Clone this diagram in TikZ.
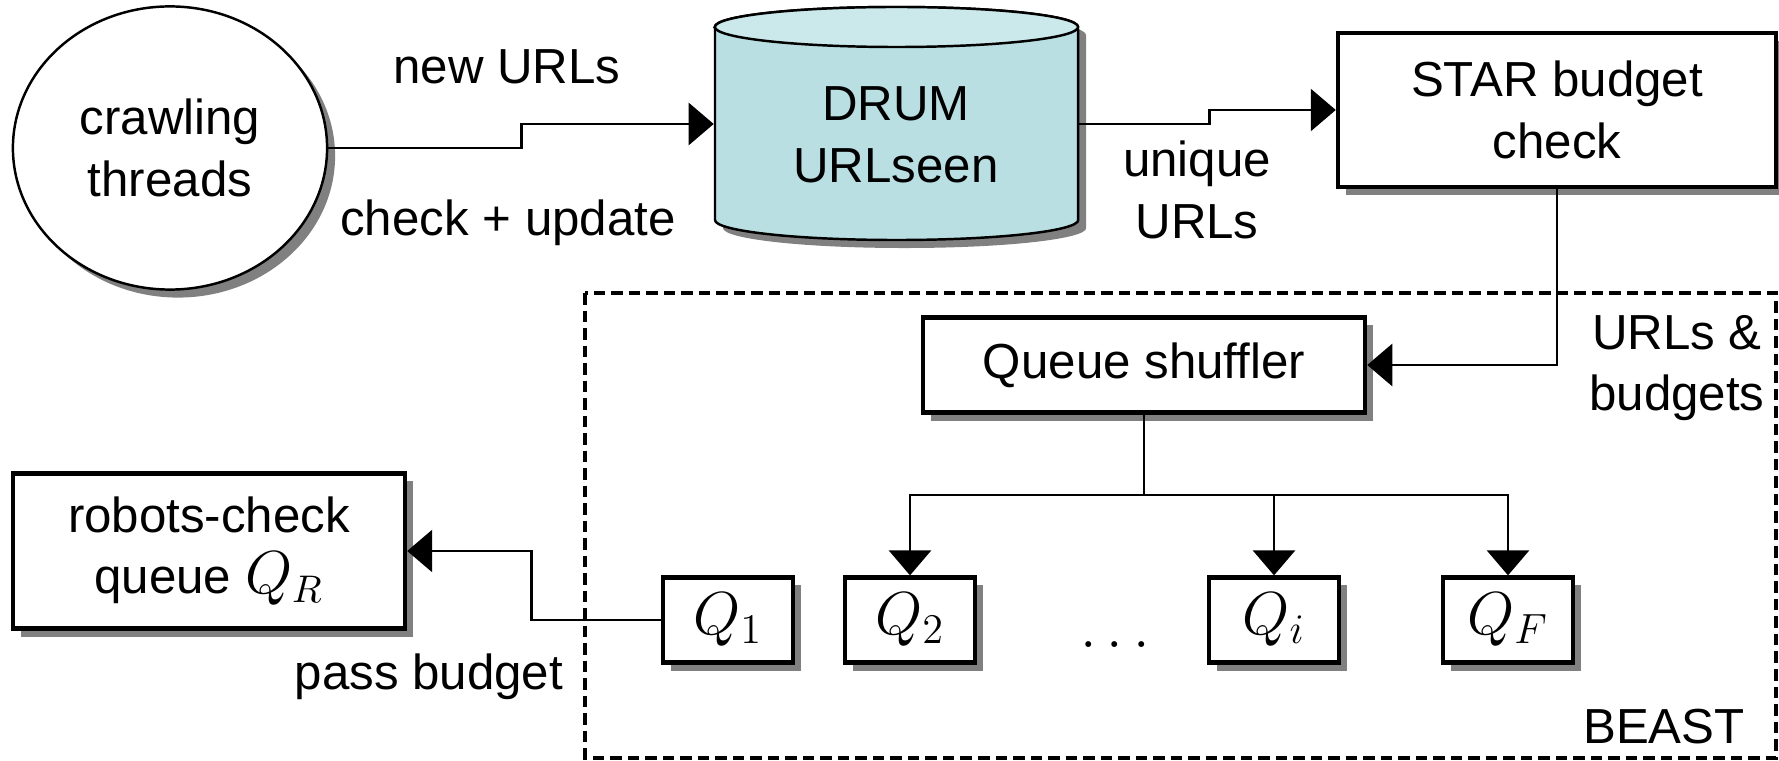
\documentclass[tikz,border=0pt]{standalone}
\usepackage{fontspec}
\setmainfont{Liberation Sans}
\usetikzlibrary{arrows.meta,shapes.geometric,shadows}
\definecolor{drumbody}{RGB}{185,223,227}
\definecolor{drumtop}{RGB}{203,232,235}
\tikzset{
    shadowed/.style = { drop shadow={shadow xshift=.8mm, shadow yshift=-.8mm, fill=black!50, opacity=1} },
         box/.style = { draw, line width=1.2pt, fill=white, align=center, shadowed },
        qbox/.style = { box, minimum width=1.3cm, minimum height=.85cm, inner sep=0pt, font=\fontsize{17}{20}\selectfont },
        flow/.style = { line width=.8pt, -{Triangle[length=2.5mm,width=4.2mm]} },
        wire/.style = { line width=.8pt },
        note/.style = { align=center },
      border/.style = { line width=1.3pt, dash pattern=on 1.15mm off .6mm }
}
\begin{document}
\begin{tikzpicture}[x=0.01cm, y=-0.01cm, font=\fontsize{14}{17.5}\selectfont]
  \useasboundingbox (0,0) rectangle (1779,761);
  % BEAST frame
  \draw[border] (585,293) rectangle (1776,758);
  \node at(1664,727) (beast) {BEAST};

  % top row
  \node at(170,148) [ellipse, draw, line width=.7pt, fill=white, shadowed, minimum width=3.14cm, minimum height=2.83cm, inner sep=0pt, align=center] (crawl) {crawling\\threads};

  \node at(896,124) [minimum width=3.63cm, minimum height=2.33cm, inner sep=0pt] (drum) {};
  \draw[line width=.7pt, fill=drumbody, shadowed] (715,27) -- (715,220)
      arc[start angle=180, end angle=360, x radius=1.815cm, y radius=.2cm] -- (1078,27)
      arc[start angle=0, end angle=180, x radius=1.815cm, y radius=.2cm] -- cycle;
  \draw[line width=.7pt, fill=drumtop] (896.5,27) ellipse[x radius=1.815cm, y radius=.2cm];
  \node at(896,135) [note] (drumlabel) {DRUM\\URLseen};

  \node at(1557,110) [box, minimum width=4.38cm, minimum height=1.54cm] (star) {STAR budget\\check};

  \node at(507,67)   [note] (newurls)  {new URLs};
  \node at(508,223)  [note] (checkupd) {check + update};
  \node at(1197,190) [note] (unique)   {unique\\URLs};
  \node at(1677,368) [note] (urlsbud)  {URLs \&\\budgets};

  % queues
  \node at(1144,365) [box, minimum width=4.42cm, minimum height=.95cm] (shuffler) {Queue shuffler};
  \node at(209,551)  [box, minimum width=3.92cm, minimum height=1.55cm] (robots) {robots-check\\queue {\fontsize{16}{18}\selectfont$Q_R$}};
  \node at(728,620)  [qbox] (q1) {$Q_1$};
  \node at(910,620)  [qbox] (q2) {$Q_2$};
  \node at(1115,645) [font=\fontsize{16}{18}\selectfont] (dots) {$\dots$};
  \node at(1274,620) [qbox] (qi) {$Q_i$};
  \node at(1508,620) [qbox] (qF) {$Q_F$};
  \node at(429,677)  [note] (pass) {pass budget};

  % arrows
  \draw[flow] (crawl.east) -- ++(193,0) |- (drum.west);
  \draw[flow] (drum.east) -- ++(131,0) |- (star.west);
  \draw[flow] (star.south) |- (shuffler.east);
  \coordinate (split) at (1144,495);
  \draw[wire] (shuffler.south) -- (split);
  \draw[flow] (split) -| (q2.north);
  \draw[flow] (split) -| (qi.north);
  \draw[flow] (split) -| (qF.north);
  \draw[flow] (q1.west) -- ++(-129,0) |- (robots.east);
\end{tikzpicture}
\end{document}
